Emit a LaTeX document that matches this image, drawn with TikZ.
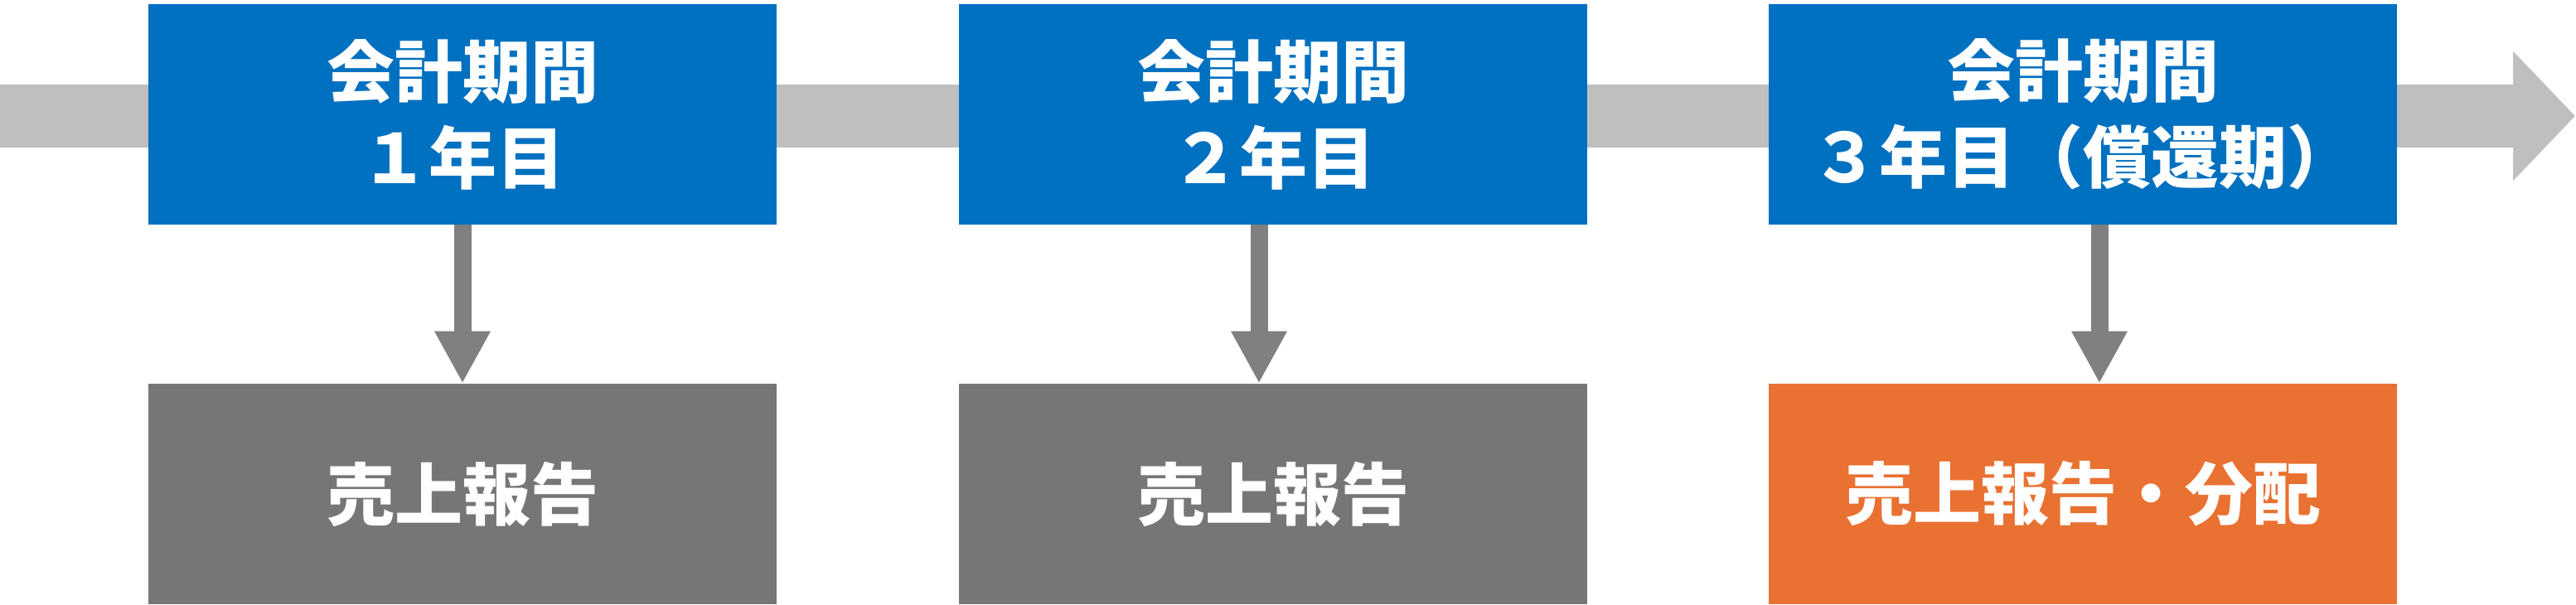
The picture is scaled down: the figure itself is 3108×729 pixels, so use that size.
\documentclass[tikz,border=0pt]{standalone}
\usepackage{fontspec}
\newfontfamily\jp{Noto Sans CJK JP}
\usetikzlibrary{arrows.meta}
\definecolor{periodblue}{RGB}{0,112,192}
\definecolor{reportgray}{RGB}{118,118,118}
\definecolor{reportorange}{RGB}{233,113,50}
\definecolor{bandgray}{RGB}{191,191,191}
\definecolor{arrowgray}{RGB}{128,128,128}
\tikzset{
	period/.style={fill=periodblue, text=white, minimum width=379pt, minimum height=133pt, inner sep=0pt, align=center, font=\jp\bfseries\fontsize{41}{52}\selectfont},
	report/.style={fill=reportgray, text=white, minimum width=379pt, minimum height=133pt, inner sep=0pt, font=\jp\bfseries\fontsize{41}{52}\selectfont},
	down/.style={draw=arrowgray, line width=10.5pt, -{Triangle[length=31.5pt,width=31.5pt]}},
}
\begin{document}
\begin{tikzpicture}[x=0.5pt,y=0.5pt,yscale=-1,xscale=1]
	\useasboundingbox (0,0) rectangle (3108,729);
	\coordinate (tstart) at (0,140);
	\coordinate (tend) at (3107,140);
	\draw [draw=bandgray, line width=38pt, -{Triangle[length=37.5pt,width=76pt]}] (tstart) -- (tend);
	\node [period] (p1) at (558,138) {会計期間\\１年目};
	\node [period] (p2) at (1536,138) {会計期間\\２年目};
	\node [period] (p3) at (2513,138) {会計期間\\３年目（償還期）};
	\node [report] (r1) at (558,596) {売上報告};
	\node [report] (r2) at (1536,596) {売上報告};
	\node [report, fill=reportorange] (r3) at (2513,596) {売上報告・分配};
	\draw [down] (p1.south) -- (r1.north);
	\draw [down] ([xshift=-8.5pt]p2.south) -- ([xshift=-8.5pt]r2.north);
	\draw [down] ([xshift=10pt]p3.south) -- ([xshift=10pt]r3.north);
\end{tikzpicture}
\end{document}
